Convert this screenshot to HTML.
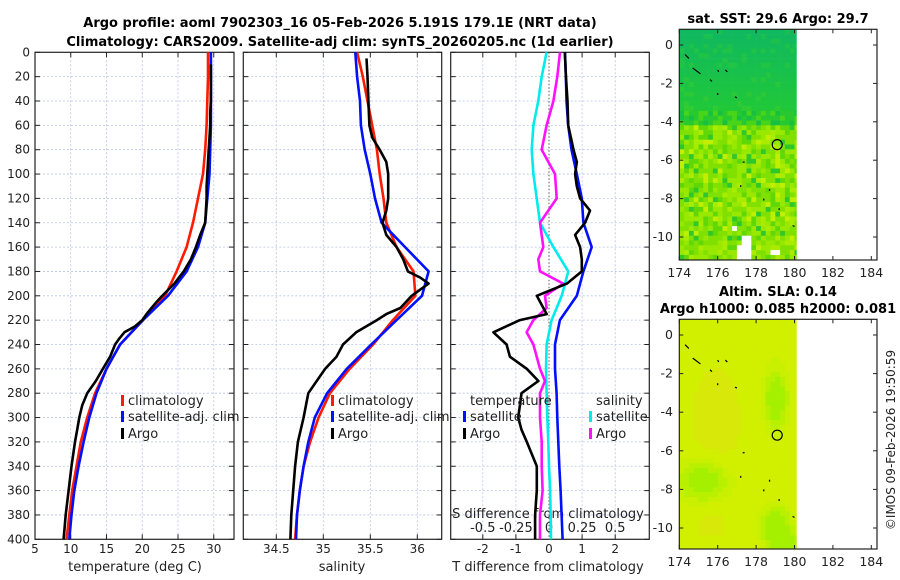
<!DOCTYPE html>
<html><head><meta charset="utf-8"><style>
html,body{margin:0;padding:0;background:#fff;}
svg{display:block;font-family:"DejaVu Sans","Liberation Sans",sans-serif;}
</style></head><body>
<svg id="fig" width="900" height="580" viewBox="0 0 900 580">
<text x="340" y="27" text-anchor="middle" font-size="13" font-weight="bold">Argo profile: aoml 7902303_16 05-Feb-2026 5.191S 179.1E (NRT data)</text>
<text x="340" y="46" text-anchor="middle" font-size="13" font-weight="bold">Climatology: CARS2009. Satellite-adj clim: synTS_20260205.nc (1d earlier)</text>
<text x="778" y="23" text-anchor="middle" font-size="13" font-weight="bold">sat. SST: 29.6 Argo: 29.7</text>
<text x="778" y="296" text-anchor="middle" font-size="13" font-weight="bold">Altim. SLA: 0.14</text>
<text x="778" y="313" text-anchor="middle" font-size="13" font-weight="bold">Argo h1000: 0.085 h2000: 0.081</text>
<text transform="translate(895,440) rotate(-90)" text-anchor="middle" font-size="12" fill="#222">©IMOS 09-Feb-2026 19:50:59</text>
<g id="g"></g>
</svg>
<script>
// ---- data (depth in dbar) ----
const depths = [0,20,40,60,80,100,120,140,160,180,200,220,240,260,280,300,320,340,360,380,400];
const climT = [29.2,29.2,29.1,29.0,28.8,28.5,27.8,27.1,26.2,24.8,23.2,20.1,16.9,15.0,13.4,12.3,11.4,10.8,10.2,9.8,9.4];
const satT  = [29.6,29.6,29.6,29.6,29.5,29.4,29.1,28.8,27.8,26.2,23.6,20.1,16.9,15.0,13.6,12.6,11.8,11.1,10.5,10.1,9.8];
const argoDepths = [10,20,30,40,50,60,70,80,90,100,110,120,130,140,150,160,170,180,190,200,205,210,215,220,225,230,235,240,250,260,270,280,290,300,310,320,340,360,380,400];
const argoT = [29.6,29.6,29.6,29.6,29.5,29.5,29.4,29.3,29.2,29.1,29.0,29.0,28.9,28.8,28.1,27.5,26.8,25.8,24.5,22.8,22.0,21.3,20.6,20.0,19.0,17.5,16.8,16.2,15.5,14.5,13.5,12.3,11.6,11.2,10.9,10.6,10.1,9.7,9.3,9.0];
const climS = [35.36,35.42,35.47,35.52,35.57,35.60,35.64,35.67,35.78,35.96,35.98,35.74,35.53,35.28,35.07,34.95,34.86,34.79,34.75,34.72,34.70];
const satS  = [35.34,35.36,35.39,35.40,35.44,35.50,35.55,35.62,35.87,36.12,36.05,35.78,35.51,35.25,35.04,34.91,34.84,34.79,34.75,34.72,34.71];
const argoSDepths = [5,20,40,60,70,80,90,100,120,130,140,150,160,170,180,185,190,195,200,210,215,220,230,240,250,260,270,280,300,320,340,360,380,400];
const argoS = [35.46,35.47,35.48,35.49,35.52,35.60,35.67,35.69,35.69,35.67,35.63,35.67,35.78,35.85,35.90,36.03,36.12,36.03,35.94,35.82,35.67,35.57,35.35,35.21,35.14,35.02,34.93,34.84,34.79,34.73,34.70,34.68,34.66,34.65];
const satTdiff = [0.48,0.51,0.53,0.58,0.68,0.84,0.99,1.04,1.29,1.04,0.84,0.33,0.18,0.18,0.23,0.25,0.28,0.31,0.35,0.38,0.41];
const argoTdDepths = [0,20,40,60,80,90,100,110,120,130,140,150,160,170,180,190,200,205,215,220,230,240,250,260,270,280,290,300,310,320,340,360,380,400];
const argoTdiff = [0.48,0.51,0.56,0.58,0.74,0.84,0.79,0.84,0.94,1.24,1.09,0.79,0.94,0.99,0.99,0.54,-0.37,-0.27,-0.07,-0.88,-1.68,-1.28,-1.18,-0.67,-0.32,-0.83,-0.88,-0.93,-0.83,-0.67,-0.37,-0.37,-0.42,-0.42];
const satSdiff = [-0.018,-0.055,-0.081,-0.118,-0.131,-0.118,-0.093,-0.068,0.033,0.146,0.096,0.020,-0.018,-0.023,-0.018,-0.013,-0.005,0.0,0.008,0.013,0.015];
const argoSdDepths = [0,20,40,60,80,100,120,140,160,170,180,190,200,210,220,230,240,260,270,280,300,320,340,360,380,400];
const argoSdiff = [0.083,0.063,0.033,-0.018,-0.055,0.045,0.058,-0.068,-0.043,-0.081,-0.068,0.108,-0.030,-0.018,-0.118,-0.169,-0.118,-0.068,-0.030,-0.068,-0.068,-0.055,-0.055,-0.048,-0.068,-0.068];
const depthTicks = [0,20,40,60,80,100,120,140,160,180,200,220,240,260,280,300,320,340,360,380,400];
const tTicks = [5,10,15,20,25,30];
const sTicks = [34.5,35,35.5,36];
const tdTicks = [-2,-1,0,1,2];
const sdTicks = [-0.5,-0.25,0,0.25,0.5];
const lonTicks = [174,176,178,180,182,184];
const latTicks = [0,-2,-4,-6,-8,-10];
const argoLon = 179.1, argoLat = -5.19;

// ---- scales ----
const Y0=52.3, Y1=539.3;
const yD = d => Y0 + d*(Y1-Y0)/400;
const xT = t => 35 + (t-5)*7.15;
const xS = s => 323.3 + (s-35)*94;
const xTd = d => 549 + d*33.1;
const xSd = s => 549 + s*132.4;
const NS='http://www.w3.org/2000/svg';
const G=document.getElementById('g');
function el(tag,attrs,parent){const e=document.createElementNS(NS,tag);for(const k in attrs)e.setAttribute(k,attrs[k]);(parent||G).appendChild(e);return e;}
function txt(x,y,s,attrs,name){const t=el('text',Object.assign({x:x,y:y,'font-size':12,fill:'#222'},attrs||{}));t.textContent=s;


return t;}

function panel(x0,x1,name,xticks,xf,labels){
  const g=el('g',{});
  
  
  depthTicks.forEach(d=>{ if(d>0&&d<400){const l=el('line',{x1:x0,x2:x1,y1:yD(d),y2:yD(d),stroke:'#b8c4e6','stroke-width':0.8,'stroke-dasharray':'2,2'},g);
  
  }
  el('line',{x1:x0,x2:x0+5,y1:yD(d),y2:yD(d),stroke:'#222'},g);el('line',{x1:x1-5,x2:x1,y1:yD(d),y2:yD(d),stroke:'#222'},g);});
  xticks.forEach(v=>{const x=xf(v); const l=el('line',{x1:x,x2:x,y1:Y0,y2:Y1,stroke:'#b8c4e6','stroke-width':0.8,'stroke-dasharray':'2,2'},g);
  
  
  el('line',{x1:x,x2:x,y1:Y1-5,y2:Y1,stroke:'#222'},g);el('line',{x1:x,x2:x,y1:Y0,y2:Y0+5,stroke:'#222'},g);
  if(labels) txt(x,553,String(v),{'text-anchor':'middle'},'x-tick-label');});
  const r=el('rect',{x:x0,y:Y0,width:x1-x0,height:Y1-Y0,fill:'none',stroke:'#222','stroke-width':1.2},g);
  
  
  return g;
}
function line(xs,ds,xf,color,name,w){
  const p=xs.map((v,i)=>(i?'L':'M')+xf(v).toFixed(1)+','+yD(ds[i]).toFixed(1)).join('');
  const e=el('path',{d:p,fill:'none',stroke:color,'stroke-width':w||2.6,'stroke-linejoin':'round'});
  
  
}
function legendItem(x,y,color,label,name){
  el('rect',{x:x,y:y-10,width:3,height:11,fill:color});
  txt(x+7,y,label,{'font-size':13},name);
}
// Panel 1
panel(35,234,'temperature-panel',tTicks.filter(v=>v>5),xT,false);
tTicks.forEach(v=>txt(xT(v),553,String(v),{'text-anchor':'middle'},'temperature-tick-label'));
depthTicks.forEach(d=>txt(30,yD(d)+4,String(d),{'text-anchor':'end'},'depth-tick-label'));
txt(135,571,'temperature (deg C)',{'text-anchor':'middle','font-size':13},'temperature-axis-title');
line(climT,depths,xT,'#ff1a00','climatology-temperature-line');
line(satT,depths,xT,'#0010ff','satellite-temperature-line');
line(argoT,argoDepths,xT,'#000','argo-temperature-line');
legendItem(121,405,'#ff1a00','climatology','legend-climatology');
legendItem(121,421,'#0010ff','satellite-adj. clim','legend-satellite');
legendItem(121,438,'#000','Argo','legend-argo');
// Panel 2
panel(243.3,441.7,'salinity-panel',sTicks,xS,true);
txt(342,571,'salinity',{'text-anchor':'middle','font-size':13},'salinity-axis-title');
line(climS,depths,xS,'#ff1a00','climatology-salinity-line');
line(satS,depths,xS,'#0010ff','satellite-salinity-line');
line(argoS,argoSDepths,xS,'#000','argo-salinity-line');
legendItem(331,405,'#ff1a00','climatology','legend-climatology-2');
legendItem(331,421,'#0010ff','satellite-adj. clim','legend-satellite-2');
legendItem(331,438,'#000','Argo','legend-argo-2');
// Panel 3
panel(450.7,649.3,'difference-panel',tdTicks.filter(v=>v!==0),xTd,true);
txt(xTd(0),553,'0',{'text-anchor':'middle'},'x-tick-label');
const zl=el('line',{x1:549,x2:549,y1:Y0,y2:Y1,stroke:'#555','stroke-width':1,'stroke-dasharray':'1.5,2'});


txt(548,571,'T difference from climatology',{'text-anchor':'middle','font-size':13},'t-diff-axis-title');
txt(548,518,'S difference from climatology',{'text-anchor':'middle','font-size':13},'s-diff-axis-title');
sdTicks.forEach(v=>txt(xSd(v),532,String(v),{'text-anchor':'middle','font-size':13},'s-diff-tick-label'));
line(satSdiff,depths,xSd,'#00ecec','satellite-salinity-diff-line');
line(argoSdiff,argoSdDepths,xSd,'#ff10ff','argo-salinity-diff-line');
line(satTdiff,depths,xTd,'#0010ff','satellite-temperature-diff-line');
line(argoTdiff,argoTdDepths,xTd,'#000','argo-temperature-diff-line');
txt(470,405,'temperature',{'font-size':13},'legend-temperature-heading');
txt(596,405,'salinity',{'font-size':13},'legend-salinity-heading');
legendItem(463,421,'#0010ff','satellite','legend-t-satellite');
legendItem(463,438,'#000','Argo','legend-t-argo');
legendItem(589,421,'#00ecec','satellite','legend-s-satellite');
legendItem(589,438,'#ff10ff','Argo','legend-s-argo');

// ---- maps ----
function hash(i,j,s){let h=(i*374761393+j*668265263+s*1442695041)|0;h=(h^(h>>>13))*1274126177|0;return ((h^(h>>>16))>>>0)/4294967296;}
function mix(a,b,t){const pa=[1,3,5].map(k=>parseInt(a.substr(k,2),16)),pb=[1,3,5].map(k=>parseInt(b.substr(k,2),16));
  return 'rgb('+pa.map((v,i)=>Math.round(v+(pb[i]-v)*t)).join(',')+')';}
function map(fy0,fy1,lat0y,name,kind){
  const g=el('g',{});
  
  
  const fx0=679.3,fx1=877;
  const ppd=kind==='sst'?19.2:19.3;
  const xL=l=>fx0+(l-174)*19.2, yL=l=>lat0y-l*ppd;
  const dataR=xL(180.1);
  const cell=4.8;
  for(let y=fy0;y<fy1;y+=cell){for(let x=fx0;x<dataR;x+=cell){
    const i=Math.round((x-fx0)/cell),j=Math.round((y-fy0)/cell);const r=hash(i,j,kind==='sst'?1:2);
    const lon=174+(x-fx0)/19.2, lat=(lat0y-y)/ppd;
    let c;
    if(kind==='sst'){
      if(lat>-3.3){
        const t=Math.max(0,Math.min(1,(0.8-lat)/4.1));
        c=mix('#10b860','#20c838',t);
        if(r>0.85) c=mix('#18c050','#30cc30',t);
      }
      else if(lat>-4.0){c=r<0.45?'#28c830':(r<0.75?'#48d418':'#18c040');}
      else{c=r<0.32?'#80e000':(r<0.58?'#98e800':(r<0.74?'#60d808':(r<0.86?'#aaec00':(r<0.93?'#30c828':'#c0f000'))));}
      if((x>xL(177.05)&&x<xL(177.6)&&y>yL(-9.9))||(x>xL(176.5)&&x<xL(176.9)&&y>yL(-9.3)&&y<yL(-9.5))||(x>xL(178.6)&&x<xL(179.0)&&y>yL(-10.6)&&y<yL(-10.8))||(x>xL(179.6)&&y>yL(-9.7)&&y<yL(-9.9))||(x>xL(176.8)&&x<xL(177.0)&&y>yL(-10.2))) c='#ffffff';
    } else {
      const g1=Math.exp(-(((lon-175.2)/1.3)**2+((lat+7.4)/1.2)**2));
      const g2=Math.exp(-(((lon-178.9)/0.6)**2+((lat+3.2)/1.5)**2));
      const g3=Math.exp(-(((lon-178.9)/0.8)**2+((lat+9.8)/1.0)**2));
      const g5=Math.exp(-(((lon-179.5)/0.7)**2+((lat+10.9)/0.6)**2));
      const g4=Math.exp(-(((lon-175.8)/1.3)**2+((lat+4.3)/2.8)**2))+0.6*Math.exp(-(((lon-175.5)/1.2)**2+((lat+9.6)/1.2)**2));
      const v=Math.min(1,g1+g2+g3+g5)-0.5*g4;
      c=v>0.6?'#a4f000':(v>0.35?'#b8f000':(v>0.15?'#c8f000':(v<-0.2?'#d8e808':'#d0f000')));
    }
    el('rect',{x:x.toFixed(1),y:y.toFixed(1),width:Math.min(cell,dataR-x)+0.3,height:Math.min(cell,fy1-y)+0.3,fill:c},g);
  }}
  // coastline specks
  [[174.3,-0.5,174.5,-0.7],[174.7,-1.2,175.1,-1.5],[176.0,-1.3,176.05,-1.4],[176.4,-1.3,176.5,-1.4],[175.6,-1.8,175.7,-1.9],[176.0,-2.5,176.0,-2.6],[176.9,-2.7,177.0,-2.75],[177.3,-6.1,177.4,-6.1],[177.2,-7.3,177.2,-7.4],[178.7,-7.5,178.7,-7.6],[178.4,-8.0,178.4,-8.1],[179.2,-8.5,179.2,-8.6],[179.9,-9.4,180,-9.45]].forEach(s=>{
    el('line',{x1:xL(s[0]),y1:yL(s[1]),x2:xL(s[2]),y2:yL(s[3]),stroke:'#000','stroke-width':1.2},g);});
  const c=el('circle',{cx:xL(argoLon),cy:yL(argoLat),r:5,fill:'none',stroke:'#000','stroke-width':1.2},g);
  
  
  const fr=el('rect',{x:fx0,y:fy0,width:fx1-fx0,height:fy1-fy0,fill:'none',stroke:'#222','stroke-width':1.2},g);
  
  
  lonTicks.forEach(l=>{const x=xL(l);el('line',{x1:x,x2:x,y1:fy1-4,y2:fy1,stroke:'#222'},g);el('line',{x1:x,x2:x,y1:fy0,y2:fy0+4,stroke:'#222'},g);
    txt(x,fy1+17,String(l),{'text-anchor':'middle','font-size':12.5},'longitude-tick-label');});
  latTicks.forEach(l=>{const y=yL(l);el('line',{x1:fx0,x2:fx0+4,y1:y,y2:y,stroke:'#222'},g);el('line',{x1:fx1-4,x2:fx1,y1:y,y2:y,stroke:'#222'},g);
    txt(673,y+4,String(l),{'text-anchor':'end','font-size':12.5},'latitude-tick-label');});
}
map(29.3,260,45,'sst-map','sst');
map(319.3,549,335,'sla-map','sla');
</script>
</body></html>
